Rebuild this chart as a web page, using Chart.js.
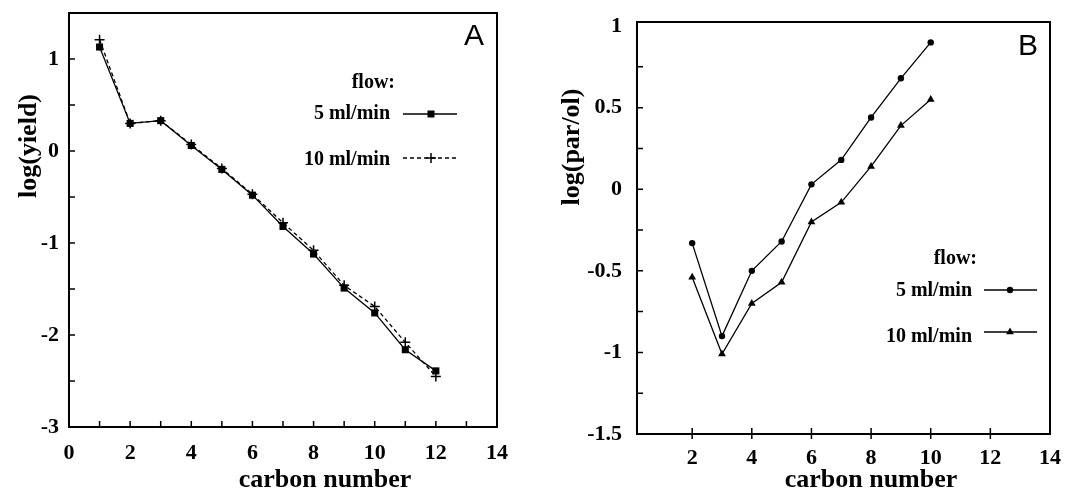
<!DOCTYPE html>
<html>
<head>
<meta charset="utf-8">
<script src="https://cdn.jsdelivr.net/npm/chart.js@4.4.0/dist/chart.umd.min.js"></script>
<style>
  body { margin: 0; background: #fff; }
  #wrap { position: relative; width: 1084px; height: 491px; }
  canvas { position: absolute; top: 0; }
  #chartA { left: 0; }
  #chartB { left: 540px; }
</style>
</head>
<body>
<div id="wrap">
  <canvas id="chartA" width="540" height="491"></canvas>
  <canvas id="chartB" width="544" height="491"></canvas>
</div>
<script>
// Panel A: log(yield) against carbon number
const carbonA = [1, 2, 3, 4, 5, 6, 7, 8, 9, 10, 11, 12];
const yield5 = [1.13, 0.30, 0.33, 0.06, -0.20, -0.48, -0.82, -1.12, -1.49, -1.76, -2.16, -2.39];
const yield10 = [1.21, 0.30, 0.33, 0.07, -0.19, -0.47, -0.78, -1.08, -1.46, -1.69, -2.08, -2.45];
const ticksXA = [0, 1, 2, 3, 4, 5, 6, 7, 8, 9, 10, 11, 12, 13, 14];
const ticksYA = [-3, -2.5, -2, -1.5, -1, -0.5, 0, 0.5, 1, 1.5];

// Panel B: log(par/ol) against carbon number
const carbonB = [2, 3, 4, 5, 6, 7, 8, 9, 10];
const parol5 = [-0.33, -0.90, -0.50, -0.32, 0.03, 0.18, 0.44, 0.68, 0.90];
const parol10 = [-0.54, -1.01, -0.70, -0.57, -0.20, -0.08, 0.14, 0.39, 0.55];
const ticksXB = [2, 4, 6, 8, 10, 12, 14];
const ticksYB = [-1.5, -1.25, -1, -0.75, -0.5, -0.25, 0, 0.25, 0.5, 0.75, 1];

const serif = '"Liberation Serif", "Times New Roman", serif';
const sans = '"Liberation Sans", Arial, sans-serif';

const toPoints = (xs, ys) => xs.map((x, i) => ({ x: x, y: ys[i] }));

// small marker drawing for the hand placed legend
const drawMarker = (ctx, style, x, y) => {
    ctx.save();
    ctx.fillStyle = '#000';
    ctx.strokeStyle = '#000';
    ctx.beginPath();
    if (style === 'rect') {
        ctx.fillRect(x - 3.5, y - 3.5, 7, 7);
    } else if (style === 'cross') {
        ctx.lineWidth = 1.5;
        ctx.moveTo(x - 5, y); ctx.lineTo(x + 5, y);
        ctx.moveTo(x, y - 5); ctx.lineTo(x, y + 5);
        ctx.stroke();
    } else if (style === 'circle') {
        ctx.arc(x, y, 3.2, 0, Math.PI * 2);
        ctx.fill();
    } else if (style === 'triangle') {
        ctx.moveTo(x, y - 4.5);
        ctx.lineTo(x + 3.9, y + 2.3);
        ctx.lineTo(x - 3.9, y + 2.3);
        ctx.closePath();
        ctx.fill();
    }
    ctx.restore();
};

// frame, inward ticks, axis titles, legend and panel letter
const makeDecor = (spec) => ({
    id: 'decor',
    afterDraw(chart) {
        const ctx = chart.ctx;
        const area = chart.chartArea;
        const xs = chart.scales.x;
        const ys = chart.scales.y;
        ctx.save();
        ctx.strokeStyle = '#000';
        ctx.lineWidth = 2;
        ctx.strokeRect(area.left, area.top, area.right - area.left, area.bottom - area.top);

        ctx.lineWidth = 1.5;
        ctx.beginPath();
        spec.xMarks.forEach(v => {
            const px = xs.getPixelForValue(v);
            ctx.moveTo(px, area.bottom + spec.xOut);
            ctx.lineTo(px, area.bottom - 6);
        });
        spec.yMarks.forEach(v => {
            const py = ys.getPixelForValue(v);
            ctx.moveTo(area.left, py);
            ctx.lineTo(area.left + 6, py);
        });
        ctx.stroke();

        // axis titles
        ctx.fillStyle = '#000';
        ctx.font = 'bold 26px ' + serif;
        ctx.textAlign = 'center';
        ctx.textBaseline = 'alphabetic';
        ctx.fillText('carbon number', spec.xTitle[0], spec.xTitle[1]);
        ctx.save();
        ctx.translate(spec.yTitle[0], spec.yTitle[1]);
        ctx.rotate(-Math.PI / 2);
        ctx.fillText(spec.yText, 0, 0);
        ctx.restore();

        // panel letter
        ctx.font = '30px ' + sans;
        ctx.fillText(spec.letter, spec.letterPos[0], spec.letterPos[1]);

        // legend
        const lg = spec.legend;
        ctx.textAlign = 'right';
        ctx.font = 'bold 20px ' + serif;
        ctx.fillText('flow:', lg.flow[0], lg.flow[1]);
        lg.rows.forEach(row => {
            ctx.fillText(row.text, lg.textRight, row.base);
            ctx.save();
            ctx.lineWidth = 1.3;
            ctx.setLineDash(row.dash);
            ctx.beginPath();
            ctx.moveTo(lg.lineX[0], row.line);
            ctx.lineTo(lg.lineX[1], row.line);
            ctx.stroke();
            ctx.restore();
            drawMarker(ctx, row.marker, lg.markX, row.line);
        });
        ctx.restore();
    }
});

const tickFont = { family: serif, size: 22, weight: 'bold' };

const buildChart = (id, datasets, xCfg, yCfg, pad, decor) => {
    const canvas = document.getElementById(id);
    if (!canvas) {
        console.error('Canvas element not found');
        return;
    }
    return new Chart(canvas.getContext('2d'), {
        type: 'line',
        data: { datasets: datasets },
        options: {
            responsive: false,
            animation: false,
            devicePixelRatio: 1,
            layout: { padding: pad },
            plugins: { legend: { display: false }, tooltip: { enabled: false } },
            scales: {
                x: {
                    type: 'linear',
                    min: xCfg.min,
                    max: xCfg.max,
                    afterBuildTicks: (scale) => { scale.ticks = xCfg.ticks.map(v => ({ value: v })); },
                    afterFit: (scale) => {
                        scale.height = xCfg.height;
                        scale.paddingLeft = 0;
                        scale.paddingRight = 0;
                    },
                    grid: { display: false, drawTicks: false },
                    border: { display: false },
                    ticks: {
                        autoSkip: false,
                        maxRotation: 0,
                        padding: xCfg.padding,
                        color: '#000',
                        font: tickFont,
                        callback: xCfg.label
                    }
                },
                y: {
                    type: 'linear',
                    min: yCfg.min,
                    max: yCfg.max,
                    afterBuildTicks: (scale) => { scale.ticks = yCfg.ticks.map(v => ({ value: v })); },
                    afterFit: (scale) => {
                        scale.width = yCfg.width;
                        scale.paddingTop = 0;
                        scale.paddingBottom = 0;
                    },
                    grid: { display: false, drawTicks: false },
                    border: { display: false },
                    ticks: {
                        autoSkip: false,
                        padding: yCfg.padding,
                        color: '#000',
                        font: tickFont,
                        callback: yCfg.label
                    }
                }
            }
        },
        plugins: [makeDecor(decor)]
    });
};

document.addEventListener('DOMContentLoaded', function() {
    // Panel A
    buildChart('chartA', [
        {
            label: '5 ml/min',
            data: toPoints(carbonA, yield5),
            borderColor: '#000',
            backgroundColor: '#000',
            borderWidth: 1.3,
            pointStyle: 'rect',
            pointRadius: 5,
            pointBorderWidth: 0,
            tension: 0
        },
        {
            label: '10 ml/min',
            data: toPoints(carbonA, yield10),
            borderColor: '#000',
            backgroundColor: '#000',
            borderWidth: 1.3,
            borderDash: [4, 3],
            pointStyle: 'cross',
            pointRadius: 5,
            pointBorderWidth: 1.5,
            tension: 0
        }
    ], {
        min: 0, max: 14, ticks: ticksXA, height: 64, padding: 13,
        label: (v) => (v % 2 === 0 ? String(v) : '')
    }, {
        min: -3, max: 1.5, ticks: ticksYA, width: 69, padding: 10,
        label: (v) => (Number.isInteger(v) ? String(v) : '')
    }, { left: 0, right: 43, top: 13, bottom: 0 }, {
        xMarks: [1, 2, 3, 4, 5, 6, 7, 8, 9, 10, 11, 12, 13],
        yMarks: [-2.5, -2, -1.5, -1, -0.5, 0, 0.5, 1],
        xOut: 0,
        xTitle: [325, 487],
        yTitle: [36, 146],
        yText: 'log(yield)',
        letter: 'A',
        letterPos: [474, 45],
        legend: {
            flow: [395, 88],
            textRight: 390,
            lineX: [403, 457],
            markX: 431,
            rows: [
                { text: '5 ml/min', base: 119, line: 114, dash: [], marker: 'rect' },
                { text: '10 ml/min', base: 165, line: 158, dash: [4, 3], marker: 'cross' }
            ]
        }
    });

    // Panel B
    buildChart('chartB', [
        {
            label: '5 ml/min',
            data: toPoints(carbonB, parol5),
            borderColor: '#000',
            backgroundColor: '#000',
            borderWidth: 1.3,
            pointStyle: 'circle',
            pointRadius: 3.2,
            pointBorderWidth: 0,
            tension: 0
        },
        {
            label: '10 ml/min',
            data: toPoints(carbonB, parol10),
            borderColor: '#000',
            backgroundColor: '#000',
            borderWidth: 1.3,
            pointStyle: 'triangle',
            pointRadius: 4.5,
            pointBorderWidth: 0,
            tension: 0
        }
    ], {
        min: 0.15, max: 14, ticks: ticksXB, height: 57, padding: 11,
        label: (v) => String(v)
    }, {
        min: -1.5, max: 1.025, ticks: ticksYB, width: 97, padding: 15,
        label: (v) => (Math.abs(v * 2 - Math.round(v * 2)) < 1e-9 ? String(v) : '')
    }, { left: 0, right: 34, top: 22, bottom: 0 }, {
        xMarks: [2, 4, 6, 8, 10, 12],
        yMarks: [-1.25, -1, -0.75, -0.5, -0.25, 0, 0.25, 0.5, 0.75],
        xOut: 5,
        xTitle: [331, 487],
        yTitle: [39, 147],
        yText: 'log(par/ol)',
        letter: 'B',
        letterPos: [488, 55],
        legend: {
            flow: [437, 264],
            textRight: 432,
            lineX: [444, 497],
            markX: 470,
            rows: [
                { text: '5 ml/min', base: 296, line: 290, dash: [], marker: 'circle' },
                { text: '10 ml/min', base: 342, line: 332, dash: [], marker: 'triangle' }
            ]
        }
    });
});
</script>
</body>
</html>
